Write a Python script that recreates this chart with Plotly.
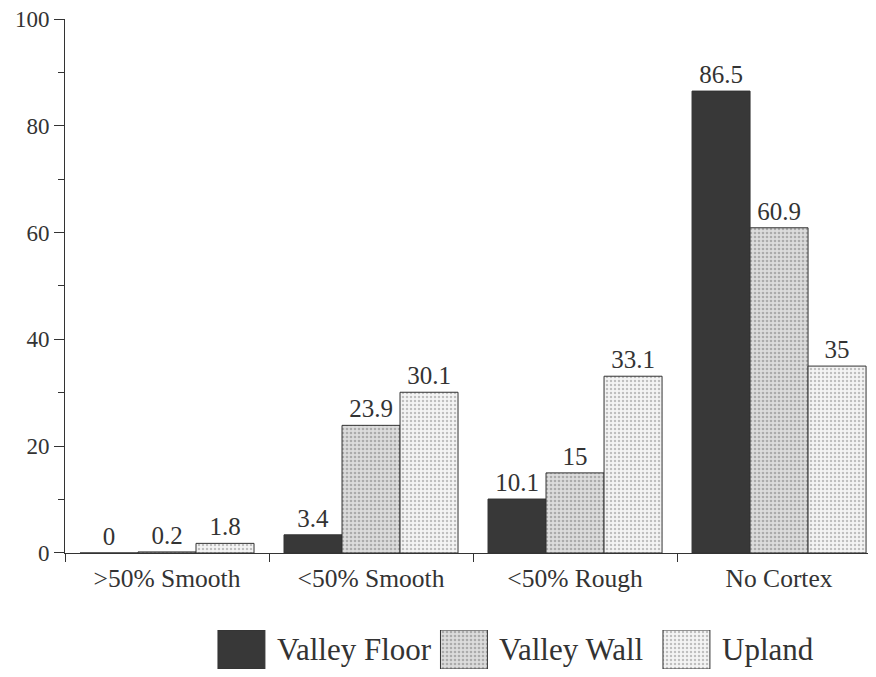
import plotly.graph_objects as go

categories = [">50% Smooth", "<50% Smooth", "<50% Rough", "No Cortex"]
series_names = ["Valley Floor", "Valley Wall", "Upland"]
valley_floor = [0, 3.4, 10.1, 86.5]
valley_wall = [0.2, 23.9, 15, 60.9]
upland = [1.8, 30.1, 33.1, 35]
y_ticks = [0, 20, 40, 60, 80, 100]

FONT = "Liberation Serif"
INK = "#333333"

styles = {
    "Valley Floor": dict(color="#383838", pattern=None),
    "Valley Wall": dict(color="#d6d6d6", pattern=dict(shape=".", bgcolor="#dcdcdc",
                                                       fgcolor="#7a7a7a", size=4, solidity=0.35)),
    "Upland": dict(color="#f0f0f0", pattern=dict(shape=".", bgcolor="#f4f4f4",
                                                  fgcolor="#8a8a8a", size=4, solidity=0.3)),
}

fig = go.Figure()
for name, vals in zip(series_names, [valley_floor, valley_wall, upland]):
    st = styles[name]
    marker = dict(color=st["color"], line=dict(color=INK, width=1))
    if st["pattern"]:
        marker["pattern"] = st["pattern"]
    fig.add_trace(go.Bar(
        x=categories, y=vals, name=name, marker=marker,
        texttemplate="%{y}", textposition="outside", cliponaxis=False,
        constraintext="none",
        textfont=dict(family=FONT, size=25, color=INK),
        showlegend=False, xaxis="x", yaxis="y",
    ))

# custom legend with large patterned swatches
for name in series_names:
    st = styles[name]
    marker = dict(color=st["color"], line=dict(color=INK, width=1))
    if st["pattern"]:
        marker["pattern"] = st["pattern"]
    fig.add_trace(go.Bar(x=[name], y=[1], marker=marker, showlegend=False,
                         xaxis="x2", yaxis="y2", hoverinfo="skip"))
    fig.add_annotation(x=series_names.index(name) + 0.15, y=0.5, xref="x2", yref="y2",
                       text=name, showarrow=False, xanchor="left", yanchor="middle",
                       font=dict(family=FONT, size=31, color=INK))

fig.update_layout(
    width=860, height=661,
    margin=dict(l=57, r=0, t=11, b=0, autoexpand=False),
    plot_bgcolor="white", paper_bgcolor="white",
    barmode="group", bargap=0.147, bargroupgap=0,
    font=dict(family=FONT, color=INK),
    xaxis=dict(domain=[0, 1], range=[-0.5, 3.436], showline=True, linecolor=INK, linewidth=1,
               ticks="outside", tickson="boundaries", ticklen=8, tickcolor=INK,
               tickfont=dict(family=FONT, size=25.5, color=INK), showgrid=False,
               anchor="y", automargin=False, ticklabelstandoff=2,
               ticklabeloverflow="allow"),
    yaxis=dict(domain=[0.1785, 1], range=[0, 100], tickvals=y_ticks, showline=True,
               linecolor=INK, linewidth=1, ticks="outside", ticklen=10, tickcolor=INK,
               minor=dict(dtick=10, ticks="outside", ticklen=6, tickcolor=INK),
               tickfont=dict(family=FONT, size=23, color=INK), showgrid=False,
               zeroline=False, anchor="x", automargin=False,
               ticklabeloverflow="allow"),
    xaxis2=dict(domain=[0, 1], range=[-0.793, 2.816], type="category", visible=False,
                anchor="y2"),
    yaxis2=dict(domain=[0, 0.06], range=[0, 1], visible=False, anchor="x2"),
)
fig.update_traces(selector=dict(xaxis="x2"), width=0.211)

fig.write_html("out.html")
